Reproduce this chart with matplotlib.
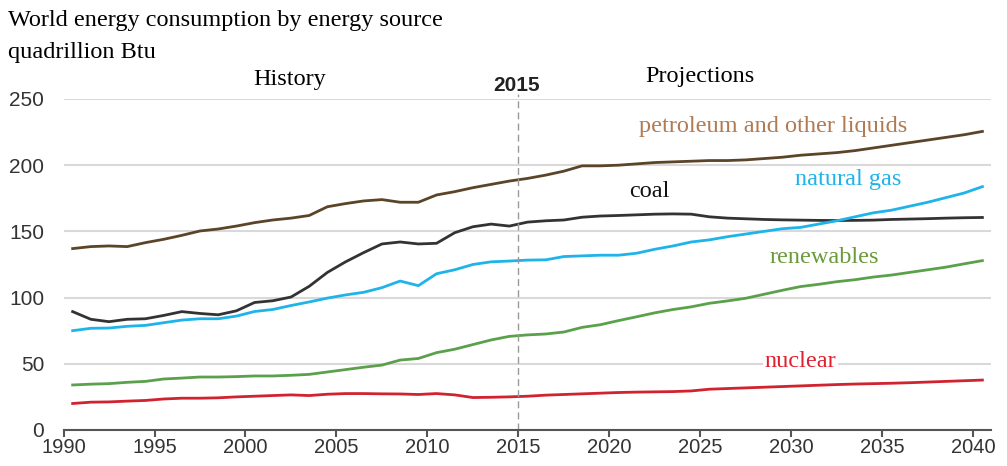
import numpy as np
import matplotlib.pyplot as plt

years = np.arange(1990, 2041)

petroleum = [137, 138.5, 139, 138.5, 141.5, 144, 147, 150.3, 151.8, 154, 156.6, 158.6, 160, 162, 168.6,
             171, 173, 174, 172, 172, 177.5, 180, 183, 185.5, 188, 190,
             192.5, 195.5, 199.5, 199.5, 200, 201, 202, 202.5, 203, 203.5, 203.5, 204, 205, 206, 207.5,
             208.5, 209.5, 211, 213, 215, 217, 219, 221, 223, 225.5]
coal = [89.4, 83.6, 81.8, 83.6, 84, 86.5, 89.4, 88, 87, 90, 96.3, 97.6, 100.4, 108.5, 119,
        127, 134, 140.5, 142, 140.5, 141, 149, 153.5, 155.5, 154, 157,
        158, 158.6, 160.7, 161.6, 162, 162.5, 163, 163.2, 163, 161, 160, 159.5, 159, 158.7, 158.5,
        158.3, 158.2, 158.3, 158.5, 159, 159.3, 159.6, 160, 160.3, 160.5]
natural_gas = [75, 76.8, 77, 78.3, 79, 81, 83, 84, 84, 86, 89.5, 91, 94, 96.7, 99.6,
               102, 104, 107.5, 112.5, 109, 118, 121, 125, 127, 127.6, 128.3,
               128.5, 131, 131.5, 132, 132, 133.5, 136.5, 139, 142, 143.6, 146, 148, 150, 152, 153,
               155.5, 158, 161, 164, 166, 169, 172, 175.5, 179, 183.8]
renewables = [34, 34.6, 35, 36, 36.7, 38.5, 39.2, 40, 40, 40.3, 40.8, 40.8, 41.3, 42, 43.8,
              45.6, 47.4, 49, 52.8, 54, 58.4, 61, 64.5, 68, 70.7, 71.8,
              72.5, 74, 77.5, 79.5, 82.6, 85.5, 88.5, 91, 93, 95.7, 97.5, 99.5, 102.5, 105.5, 108.3,
              110, 112, 113.5, 115.5, 117, 119, 121, 123, 125.5, 127.9]
nuclear = [20, 21, 21.2, 21.8, 22.3, 23.4, 24, 24, 24.3, 25, 25.5, 26, 26.5, 26, 27,
           27.5, 27.5, 27.3, 27.2, 26.8, 27.5, 26.5, 24.5, 24.7, 25, 25.5,
           26.3, 26.8, 27.3, 27.8, 28.3, 28.6, 28.8, 29, 29.5, 30.8, 31.3, 31.8, 32.3, 32.8, 33.3,
           33.8, 34.3, 34.7, 35, 35.3, 35.7, 36.2, 36.7, 37.2, 37.7]

serif = 'Liberation Serif'
sans = 'Liberation Sans'

fig = plt.figure(figsize=(10.07, 4.66), dpi=100)
ax = fig.add_axes([0.0631, 0.0773, 0.9215, 0.7103])

x = years + 0.5
ax.plot(x, petroleum, color='#5b4428', lw=2)
ax.plot(x, coal, color='#333333', lw=2)
ax.plot(x, natural_gas, color='#1eb4ea', lw=2)
ax.plot(x, renewables, color='#5ba04b', lw=2)
ax.plot(x, nuclear, color='#d0232f', lw=2)

ax.set_xlim(1990, 2041)
ax.set_ylim(0, 250)
ax.set_yticks(range(0, 251, 50))
ax.set_xticks(range(1990, 2041, 5))
ax.grid(axis='y', color='#d9d9d9', lw=1.5)
ax.set_axisbelow(True)
for s in ['top', 'right', 'left']:
    ax.spines[s].set_visible(False)
ax.spines['bottom'].set_color('#555555')
ax.spines['bottom'].set_linewidth(1.5)
ax.tick_params(axis='y', length=0, pad=14, labelsize=15, labelcolor='#333333')
ax.tick_params(axis='x', length=5, width=1.5, color='#555555', labelsize=14.5, labelcolor='#333333', pad=1)
for lab in ax.get_xticklabels() + ax.get_yticklabels():
    lab.set_fontfamily(sans)

ax.axvline(2015, ymin=0, ymax=1.015, color='#999999', lw=1, ls=(0, (5, 3)), clip_on=False)

fig.text(0.008, 0.955, 'World energy consumption by energy source', family=serif, fontsize=17.5, va='center')
fig.text(0.008, 0.888, 'quadrillion Btu', family=serif, fontsize=17.5, va='center')

ax.text(2002.4, 265, 'History', family=serif, fontsize=17.5, ha='center', va='center')
ax.text(2014.9, 260.5, '2015', family=sans, fontsize=15, fontweight='bold', ha='center', va='center',
        color='#222222')
ax.text(2025.0, 267, 'Projections', family=serif, fontsize=17.5, ha='center', va='center')

ax.text(2029.0, 229, 'petroleum and other liquids', family=serif, fontsize=17.5, color='#b07a52', ha='center', va='center')
ax.text(2033.1, 189, 'natural gas', family=serif, fontsize=17.5, color='#1eb4ea', ha='center', va='center')
ax.text(2022.2, 180, 'coal', family=serif, fontsize=17.5, color='#111111', ha='center', va='center')
ax.text(2031.8, 130.5, 'renewables', family=serif, fontsize=17.5, color='#6a9b3a', ha='center', va='center')
ax.text(2030.5, 51.5, 'nuclear', family=serif, fontsize=17.5, color='#e0202e', ha='center', va='center',
        bbox=dict(facecolor='white', edgecolor='none', pad=1))

fig.savefig('out.png', dpi=100)
